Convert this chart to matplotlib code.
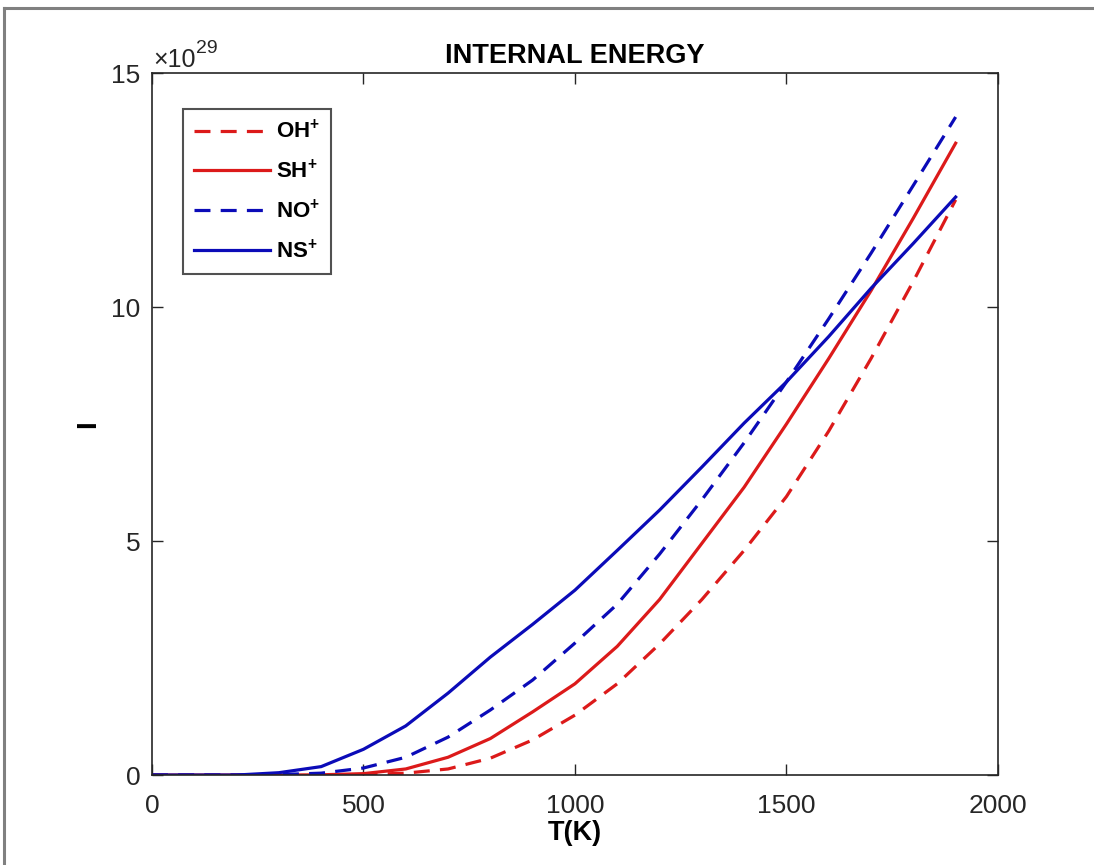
import matplotlib
matplotlib.use("Agg")
import matplotlib.pyplot as plt
from matplotlib.lines import Line2D
import numpy as np

plt.rcParams['font.family'] = ['Liberation Sans', 'DejaVu Sans']
plt.rcParams['mathtext.fontset'] = 'custom'
plt.rcParams['mathtext.rm'] = 'Liberation Sans'
plt.rcParams['mathtext.bf'] = 'Liberation Sans:bold'

T = [0, 100, 200, 300, 400, 500, 600, 700, 800, 900, 1000,
     1100, 1200, 1300, 1400, 1500, 1600, 1700, 1800, 1900]
# internal energy, in units of 1e29
OH = [0, 0, 0, 0, 0.0, 0.01, 0.04, 0.13, 0.36, 0.75, 1.28,
      1.95, 2.8, 3.75, 4.8, 5.95, 7.35, 8.9, 10.55, 12.29]
SH = [0, 0, 0, 0, 0.005, 0.03, 0.13, 0.38, 0.78, 1.35, 1.95,
      2.75, 3.75, 4.95, 6.15, 7.5, 8.9, 10.35, 11.9, 13.5]
NO = [0, 0, 0, 0.01, 0.04, 0.15, 0.38, 0.81, 1.39, 2.03, 2.82,
      3.65, 4.72, 5.88, 7.1, 8.4, 9.75, 11.15, 12.6, 14.06]
NS = [0, 0, 0, 0.05, 0.18, 0.55, 1.05, 1.75, 2.52, 3.22, 3.95,
      4.8, 5.66, 6.58, 7.52, 8.4, 9.37, 10.4, 11.36, 12.35]
EXPONENT = 29

series_names = [r'OH$^{\mathbf{+}}$', r'SH$^{\mathbf{+}}$', r'NO$^{\mathbf{+}}$', r'NS$^{\mathbf{+}}$']
red = '#dc1a1a'
blue = '#0b0bb8'
dark = '#262626'

fig = plt.figure(figsize=(10.94, 8.65), dpi=100)
ax = fig.add_axes([0.1389, 0.104, 0.7733, 0.8116])

lw = 2.3
dash = (5, 3.2)
ax.plot(T, OH, color=red, lw=lw, linestyle=(0, dash))
ax.plot(T, SH, color=red, lw=lw, linestyle='-')
ax.plot(T, NO, color=blue, lw=lw, linestyle=(0, dash))
ax.plot(T, NS, color=blue, lw=lw, linestyle='-')

ax.set_xlim(0, 2000)
ax.set_ylim(0, 15)
ax.set_xticks([0, 500, 1000, 1500, 2000])
ax.set_yticks([0, 5, 10, 15])

ax.tick_params(direction='in', length=8, width=1, top=True, right=True,
               labelsize=19, colors=dark)
ax.tick_params(axis='x', pad=14)
ax.tick_params(axis='y', pad=8.5)
for s in ax.spines.values():
    s.set_linewidth(1.2)
    s.set_color(dark)

# exponent label (x10^29) at top-left of the axes
ax.annotate('\u00d710', xy=(0, 1), xycoords='axes fraction', xytext=(1, 4.3),
            textcoords='offset points', fontsize=18, color=dark, ha='left', va='baseline')
ax.annotate(str(EXPONENT), xy=(0, 1), xycoords='axes fraction', xytext=(32, 14.5),
            textcoords='offset points', fontsize=14, color=dark, ha='left', va='baseline')

ax.set_title('INTERNAL ENERGY', fontsize=19.5, fontweight='bold', pad=7.5)
ax.set_xlabel('T(K)', fontsize=19.5, fontweight='bold', labelpad=1)
ax.set_ylabel('I', fontsize=20, fontweight='bold')
ax.yaxis.set_label_coords(-0.06, 0.5)

handles = [Line2D([], [], color=red, lw=lw, linestyle=(0, dash)),
           Line2D([], [], color=red, lw=lw),
           Line2D([], [], color=blue, lw=lw, linestyle=(0, dash)),
           Line2D([], [], color=blue, lw=lw)]
leg = ax.legend(handles, series_names, loc='upper left',
                bbox_to_anchor=(0.0366, 0.9487), prop={'weight': 'bold', 'size': 16},
                frameon=True, fancybox=False, edgecolor=dark,
                handlelength=3.4, handletextpad=0.3, labelspacing=0.74,
                borderpad=0.5, borderaxespad=0)
leg.get_frame().set_linewidth(1.5)

# screenshot frame (top and left border)
fig.add_artist(Line2D([0.0037, 1.0], [1 - 8/865, 1 - 8/865], color='#808080', lw=2.2,
                      transform=fig.transFigure))
fig.add_artist(Line2D([0.0037, 0.0037], [0, 1 - 8/865], color='#808080', lw=2.2,
                      transform=fig.transFigure))

fig.savefig('out.png', dpi=100)
